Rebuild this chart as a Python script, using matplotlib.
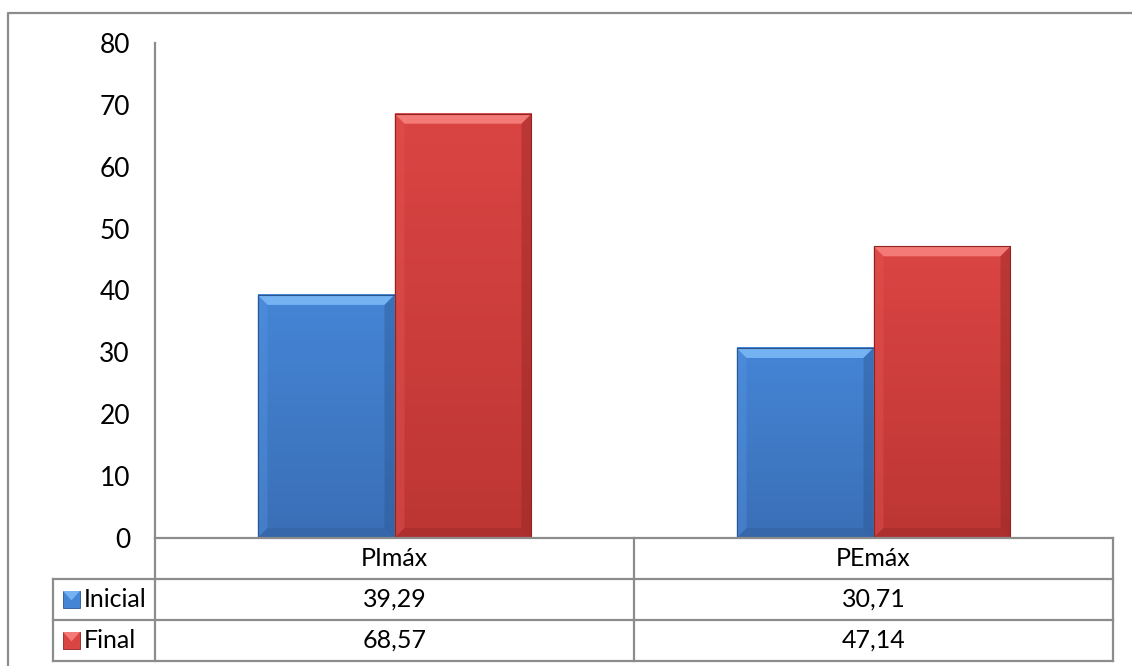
import numpy as np
import matplotlib.pyplot as plt
from matplotlib.patches import Polygon, Rectangle
from matplotlib.lines import Line2D
from matplotlib.colors import LinearSegmentedColormap

plt.rcParams['font.family'] = ['Lato', 'DejaVu Sans']

categories = ['PImáx', 'PEmáx']
series_names = ['Inicial', 'Final']
inicial = [39.29, 30.71]
final = [68.57, 47.14]
yticks = [0, 10, 20, 30, 40, 50, 60, 70, 80]

W, H = 1132, 666
GRID = '#8c8c8c'
FS = 18

# per series: top, bottom of gradient, light bevel, side bevel, dark bevel
palette = {
    'Inicial': ('#4585d6', '#3a6fb6', '#74b2f2', '#5595e2', '#2a558f'),
    'Final': ('#da4543', '#bd3634', '#f37a76', '#e55553', '#8e2422'),
}


def fx(x):
    return x / W


def fy(y):
    return 1 - y / H


fig = plt.figure(figsize=(W / 100, H / 100), dpi=100)

# plot area
ax_l, ax_r, ax_t, ax_b = 155, 1113, 43, 538
ax = fig.add_axes([fx(ax_l), fy(ax_b), fx(ax_r - ax_l), (ax_b - ax_t) / H])
ax.set_xlim(0, len(categories))
ax.set_ylim(0, 80)
for s in ['top', 'right', 'bottom']:
    ax.spines[s].set_visible(False)
ax.spines['left'].set_color(GRID)
ax.spines['left'].set_linewidth(1.6)
ax.set_xticks([])
ax.set_yticks(yticks)
ax.tick_params(axis='y', length=0, pad=18, labelsize=FS + 1)

x = np.arange(len(categories)) + 0.5
bw = 0.286

# bevel thickness in data units (about 10 px)
bx = 10 / (ax_r - ax_l) * len(categories)
by = 10 / (ax_b - ax_t) * 80


def bevel_bar(x0, h, cols):
    top, bot, light, side, dark = cols
    x1 = x0 + bw
    cmap = LinearSegmentedColormap.from_list('g', [bot, top])
    grad = np.linspace(0, 1, 100).reshape(-1, 1)
    ax.imshow(grad, extent=[x0, x1, 0, h], origin='lower', aspect='auto',
              cmap=cmap, zorder=2)
    # top, left, right, bottom bevels
    ax.add_patch(Polygon([(x0, h), (x1, h), (x1 - bx, h - by), (x0 + bx, h - by)],
                         closed=True, fc=light, ec='none', zorder=3))
    ax.add_patch(Polygon([(x0, 0), (x0, h), (x0 + bx, h - by), (x0 + bx, by)],
                         closed=True, fc=side, ec='none', zorder=3, alpha=0.4))
    ax.add_patch(Polygon([(x1, 0), (x1, h), (x1 - bx, h - by), (x1 - bx, by)],
                         closed=True, fc=dark, ec='none', zorder=3, alpha=0.4))
    ax.add_patch(Polygon([(x0, 0), (x1, 0), (x1 - bx, by), (x0 + bx, by)],
                         closed=True, fc=dark, ec='none', zorder=3, alpha=0.3))
    ax.add_patch(Rectangle((x0, 0), bw, h, fc='none', ec=dark, lw=0.8, zorder=4))


for i in range(len(categories)):
    bevel_bar(x[i] - bw, inicial[i], palette['Inicial'])
    bevel_bar(x[i], final[i], palette['Final'])
ax.set_xlim(0, len(categories))
ax.set_ylim(0, 80)

# data table under the plot
col_x = [ax_l, (ax_l + ax_r) / 2, ax_r]
row_y = [ax_b, 579, 620, 661]
lab_l = 53


def hline(y, x0, x1):
    fig.add_artist(Line2D([fx(x0), fx(x1)], [fy(y), fy(y)], color=GRID, lw=1.6))


def vline(x, y0, y1):
    fig.add_artist(Line2D([fx(x), fx(x)], [fy(y0), fy(y1)], color=GRID, lw=1.6))


hline(row_y[0], ax_l, ax_r)
for y in row_y[1:]:
    hline(y, lab_l, ax_r)
vline(lab_l, row_y[1], row_y[3])
vline(ax_l, ax_b, row_y[3])
for xc in col_x[1:]:
    vline(xc, row_y[0], row_y[3])

for j, cat in enumerate(categories):
    cx = (col_x[j] + col_x[j + 1]) / 2
    fig.text(fx(cx), fy((row_y[0] + row_y[1]) / 2), cat, ha='center', va='center', fontsize=FS)
    for r, vals in enumerate([inicial, final]):
        cy = (row_y[r + 1] + row_y[r + 2]) / 2
        fig.text(fx(cx), fy(cy), f'{vals[j]:.2f}'.replace('.', ','),
                 ha='center', va='center', fontsize=FS)

# legend keys with their series names
for r, name in enumerate(series_names):
    cy = (row_y[r + 1] + row_y[r + 2]) / 2
    top, bot, light, side, dark = palette[name]
    k = 17
    kx, ky = 63, cy - k / 2
    fig.add_artist(Rectangle((fx(kx), fy(ky + k)), k / W, k / H, fc=top, ec=dark, lw=0.6))
    fig.add_artist(Polygon([(fx(kx), fy(ky)), (fx(kx + k), fy(ky)), (fx(kx + k / 2), fy(ky + k * 0.55))],
                           closed=True, fc=light, ec='none'))
    fig.text(fx(84), fy(cy), name, ha='left', va='center', fontsize=FS)

# outer chart frame
fig.add_artist(Line2D([fx(8), fx(8), fx(W)], [fy(H), fy(13), fy(13)], color=GRID, lw=1.6))

fig.savefig('out.png', dpi=100)
